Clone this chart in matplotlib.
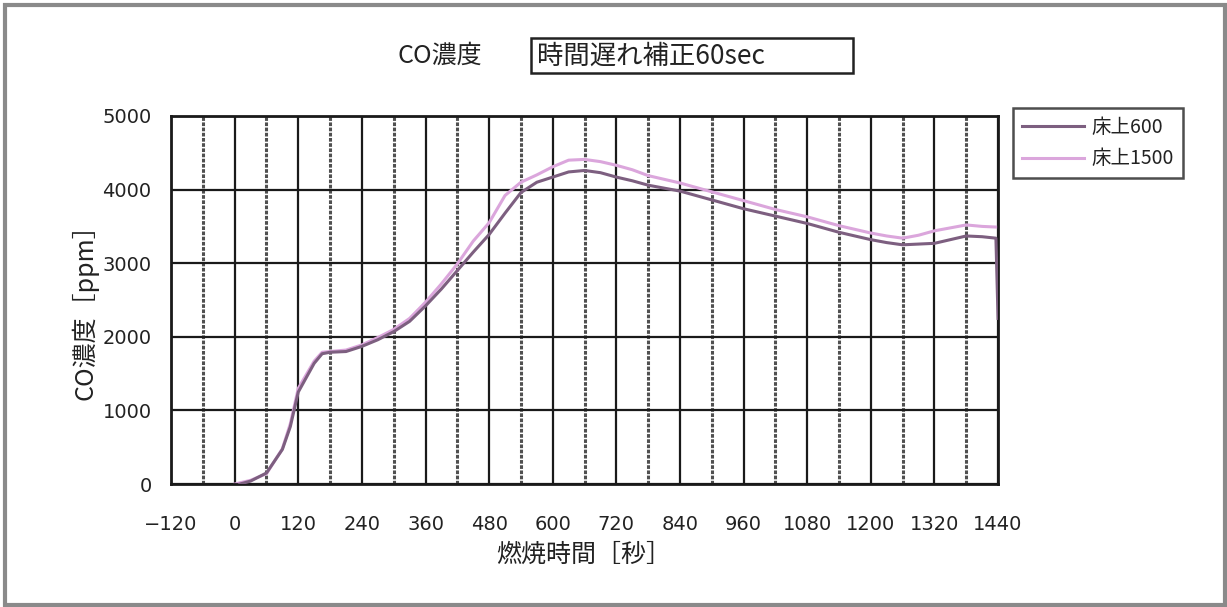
import matplotlib
matplotlib.use("Agg")
import matplotlib.pyplot as plt
from matplotlib.patches import Rectangle
from matplotlib.ticker import MultipleLocator

plt.rcParams['font.family'] = ['Noto Sans CJK JP', 'DejaVu Sans']

# ---- data ----
time_600 = [10, 30, 60, 90, 105, 120, 150, 165, 180, 210, 240, 270, 300, 330, 360, 390, 420,
            450, 480, 510, 540, 570, 600, 630, 660, 690, 720, 750, 780, 810, 840, 870, 900,
            930, 960, 990, 1020, 1050, 1080, 1110, 1140, 1170, 1200, 1230, 1260, 1290, 1320,
            1350, 1380, 1410, 1436, 1440]
co_600 = [0, 40, 150, 470, 780, 1250, 1640, 1770, 1790, 1800, 1870, 1960, 2070, 2210, 2420, 2650, 2900,
          3150, 3390, 3680, 3960, 4100, 4170, 4240, 4260, 4230, 4170, 4120, 4060, 4020, 3980, 3920, 3860,
          3800, 3740, 3690, 3640, 3590, 3540, 3480, 3420, 3370, 3320, 3280, 3250, 3260, 3270,
          3320, 3370, 3360, 3340, 2250]

time_1500 = [0, 30, 60, 90, 105, 120, 150, 165, 180, 210, 240, 270, 300, 330, 360, 390, 420,
             450, 480, 510, 540, 570, 600, 630, 660, 690, 720, 750, 780, 810, 840, 870, 900,
             930, 960, 990, 1020, 1050, 1080, 1110, 1140, 1170, 1200, 1230, 1260, 1290, 1320,
             1350, 1380, 1410, 1440]
co_1500 = [0, 50, 140, 480, 820, 1300, 1670, 1790, 1800, 1820, 1890, 1990, 2100, 2250, 2470, 2720, 2990,
           3300, 3550, 3920, 4100, 4200, 4310, 4400, 4410, 4380, 4330, 4270, 4190, 4140, 4090, 4030, 3970,
           3910, 3850, 3790, 3730, 3680, 3630, 3570, 3510, 3460, 3410, 3370, 3340, 3380, 3440,
           3480, 3520, 3500, 3490]

series_labels = ['床上600', '床上1500']
series_colors = ['#7d5f80', '#dba6dc']

x_ticks = list(range(-120, 1441, 120))
y_ticks = list(range(0, 5001, 1000))

title_text = 'CO濃度'
box_text = '時間遅れ補正60sec'
x_label = '燃焼時間［秒］'
y_label = 'CO濃度［ppm］'

# ---- figure ----
fig = plt.figure(figsize=(12.27, 6.07), dpi=100)
ax = fig.add_axes([0.1394, 0.2026, 0.8134 - 0.1394, 0.8089 - 0.2026])

ax.set_xlim(-120, 1440)
ax.set_ylim(0, 5000)
ax.set_xticks(x_ticks)
ax.set_yticks(y_ticks)
ax.xaxis.set_minor_locator(MultipleLocator(60))

ax.grid(which='major', axis='both', color='#1a1a1a', linewidth=1.6, zorder=0)
ax.grid(which='minor', axis='x', color='#505050', linewidth=2.2, linestyle=(0, (1.2, 0.5)), zorder=0)
ax.tick_params(which='both', length=0, labelsize=14, colors='#222222')
ax.tick_params(axis='x', pad=22)
ax.tick_params(axis='y', pad=14)
ax.set_xticklabels([str(v).replace('-', '\u2212') if v < 0 else str(v) for v in x_ticks], family=['DejaVu Sans'])
ax.set_yticklabels([str(v) for v in y_ticks], family=['DejaVu Sans'])
for s in ax.spines.values():
    s.set_color('#1a1a1a')
    s.set_linewidth(2)

l1, = ax.plot(time_600, co_600, color=series_colors[0], linewidth=2.2, zorder=3)
l2, = ax.plot(time_1500, co_1500, color=series_colors[1], linewidth=2.2, zorder=2)

leg = fig.legend([l1, l2], series_labels, loc='upper left',
                 bbox_to_anchor=(1013 / 1227, 1 - 108 / 607), fontsize=14,
                 frameon=True, fancybox=False, edgecolor='#222222', handlelength=3.2,
                 borderpad=0.45, labelspacing=0.55, handletextpad=0.4, borderaxespad=0)
leg.get_frame().set_linewidth(1.8)
for t in leg.get_texts():
    t.set_color('#222222')

fig.text(440 / 1227, 1 - 56 / 607, title_text, ha='center', va='center', fontsize=18, color='#222222')
fig.text(537 / 1227, 1 - 56 / 607, box_text, ha='left', va='center', fontsize=19, color='#222222')
fig.patches.append(Rectangle((531 / 1227, 1 - 73 / 607), (853 - 531) / 1227, 35 / 607,
                             transform=fig.transFigure, fill=False, edgecolor='#222222', linewidth=1.8))

fig.text(85 / 1227, 1 - 306 / 607, y_label, rotation=90, ha='center', va='center', fontsize=18, color='#222222')
fig.text(584 / 1227, 1 - 555 / 607, x_label, ha='center', va='center', fontsize=18, color='#222222')

# outer frame
fig.patches.append(Rectangle((0.004, 0.004), 0.994, 0.988, transform=fig.transFigure,
                             fill=False, edgecolor='#8a8a8a', linewidth=3))

fig.savefig('out.png', dpi=100)
